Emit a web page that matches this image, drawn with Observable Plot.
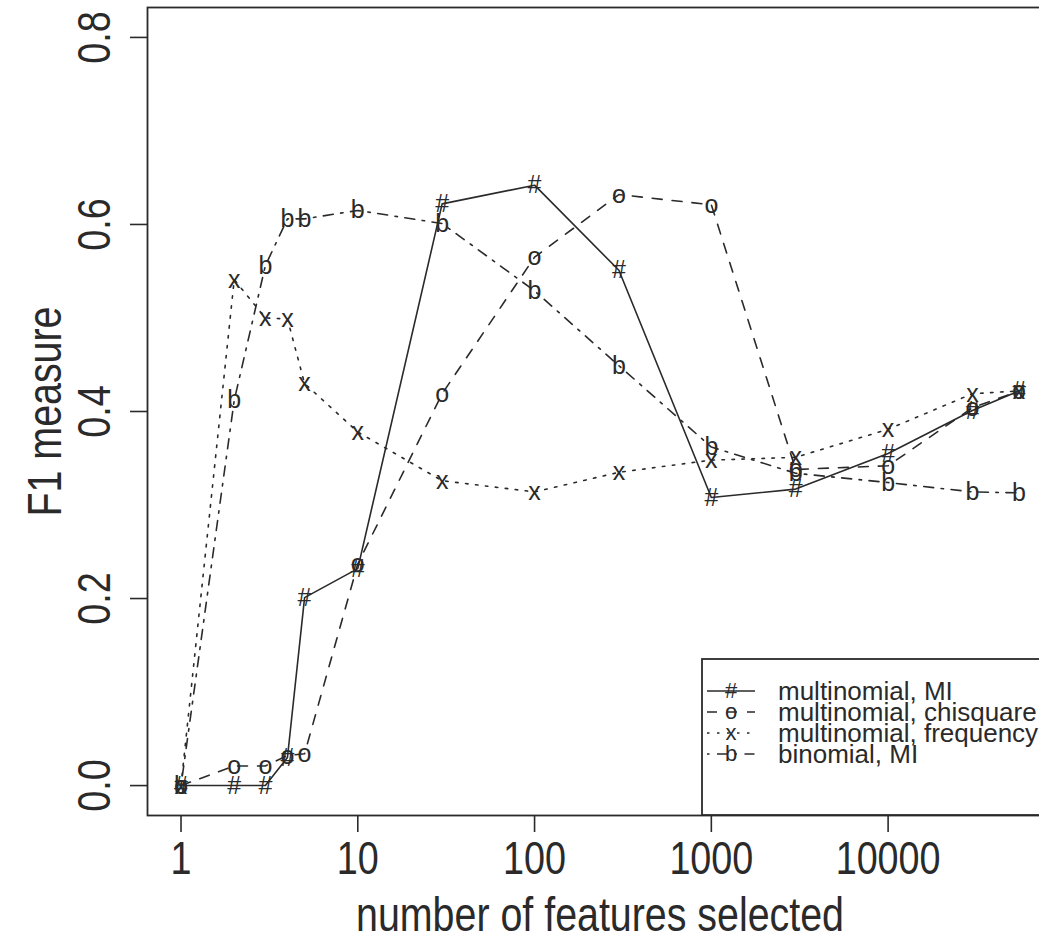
<!DOCTYPE html>
<html>
<head>
<meta charset="utf-8">
<script src="https://cdn.jsdelivr.net/npm/d3@7"></script>
<script src="https://cdn.jsdelivr.net/npm/@observablehq/plot@0.6"></script>
<style>
  html, body { margin: 0; padding: 0; overflow: hidden; background: white; width: 1039px; }
  #chart { width: 1039px; overflow: hidden; }
  #chart svg { display: block; max-width: none !important; }
</style>
</head>
<body>
<div id="chart"></div>
<script>
// ---- data ----
const features = [1, 2, 3, 4, 5, 10, 30, 100, 300, 1000, 3000, 10000, 30000, 55000];
const multinomialMI   = [0, 0, 0, 0.030, 0.201, 0.232, 0.622, 0.642, 0.551, 0.308, 0.317, 0.355, 0.401, 0.422];
const multinomialChi  = [0, 0.021, 0.021, 0.032, 0.034, 0.237, 0.419, 0.565, 0.632, 0.621, 0.338, 0.342, 0.404, 0.422];
const multinomialFreq = [0, 0.541, 0.500, 0.499, 0.430, 0.378, 0.326, 0.314, 0.335, 0.348, 0.351, 0.381, 0.419, 0.422];
const binomialMI      = [0, 0.412, 0.556, 0.606, 0.606, 0.615, 0.601, 0.529, 0.449, 0.362, 0.334, 0.324, 0.314, 0.313];

const seriesNames = ["multinomial, MI", "multinomial, chisquare", "multinomial, frequency", "binomial, MI"];
const seriesValues = [multinomialMI, multinomialChi, multinomialFreq, binomialMI];
const seriesSymbols = ["#", "o", "x", "b"];
const seriesDash = [null, "10,10", "2.5,7.5", "2.5,7.5,10,7.5"];

const xTicks = [1, 10, 100, 1000, 10000];
const yTicks = [0, 0.2, 0.4, 0.6, 0.8];
const xTitle = "number of features selected";
const yTitle = "F1 measure";

// ---- build rows ----
const rows = seriesNames.flatMap((name, i) =>
  features.map((f, j) => ({series: name, x: f, y: seriesValues[i][j], pch: seriesSymbols[i]}))
);

// R-style 4% axis extension
const L = Math.log10(d3.max(features));
const xDomain = [Math.pow(10, -0.04 * L), Math.pow(10, 1.04 * L)];
const yLim = [0, 0.8];
const yPad = 0.04 * (yLim[1] - yLim[0]);
const yDomain = [yLim[0] - yPad, yLim[1] + yPad];

const font = "'Liberation Sans', Arial, Helvetica, sans-serif";
const ink = "#2a2a2a";

const plot = Plot.plot({
  width: 1060,
  height: 942,
  marginLeft: 147,
  marginRight: 8,
  marginTop: 7,
  marginBottom: 127,
  style: {fontFamily: font, background: "white", color: ink, maxWidth: "none"},
  x: {type: "log", domain: xDomain},
  y: {domain: yDomain},
  marks: [
    ...seriesNames.map((name, i) =>
      Plot.line(rows.filter(r => r.series === name), {
        x: "x", y: "y", stroke: ink, strokeWidth: 1.6,
        strokeDasharray: seriesDash[i] || undefined
      })
    ),
    Plot.text(rows, {x: "x", y: "y", text: "pch", fontSize: 25, fill: ink}),
    Plot.frame({stroke: ink, strokeWidth: 1.8}),
    Plot.axisX(xTicks, {tickSize: 17, tickPadding: 9, fontSize: 46, tickFormat: d => String(d), label: null, strokeWidth: 1.6}),
    Plot.axisY(yTicks, {tickSize: 17, tickFormat: () => "", label: null, strokeWidth: 1.6}),
    Plot.text(yTicks, {y: d => d, text: d => d.toFixed(1), frameAnchor: "left", dx: -52, rotate: -90,
      textAnchor: "middle", lineAnchor: "middle", fontSize: 46, fill: ink}),
    Plot.text([xTitle], {frameAnchor: "bottom", dy: 100, textAnchor: "middle", lineAnchor: "middle", fontSize: 48, fill: ink}),
    Plot.text([yTitle], {frameAnchor: "left", dx: -102, rotate: -90, textAnchor: "middle", lineAnchor: "middle", fontSize: 48, fill: ink})
  ]
});
plot.style.maxWidth = "none";

document.getElementById("chart").appendChild(plot);

// condense large text (narrow Helvetica look)
plot.querySelectorAll("text").forEach(t => {
  const fs = parseFloat(getComputedStyle(t).fontSize);
  if (fs >= 40) {
    const len = t.getComputedTextLength();
    if (len > 0) {
      t.setAttribute("textLength", (len * 0.82).toFixed(2));
      t.setAttribute("lengthAdjust", "spacingAndGlyphs");
    }
  }
});

// ---- legend (inside plot, bottom-right, partially cropped like the reference) ----
const svg = d3.select(plot);
const lg = svg.append("g").attr("font-family", font).attr("fill", ink);
lg.append("rect")
  .attr("x", 702).attr("y", 659).attr("width", 420).attr("height", 156)
  .attr("fill", "white").attr("stroke", ink).attr("stroke-width", 1.8);
seriesNames.forEach((name, i) => {
  const y = 691 + 21 * i;
  const ln = lg.append("line")
    .attr("x1", 707).attr("x2", 755).attr("y1", y).attr("y2", y)
    .attr("stroke", ink).attr("stroke-width", 1.6);
  if (seriesDash[i]) ln.attr("stroke-dasharray", seriesDash[i]);
  lg.append("text").attr("x", 731).attr("y", y).attr("dy", "0.33em")
    .attr("text-anchor", "middle").attr("font-size", 22).text(seriesSymbols[i]);
  lg.append("text").attr("x", 778).attr("y", y).attr("dy", "0.36em")
    .attr("text-anchor", "start").attr("font-size", 26).text(name);
});
</script>
</body>
</html>
